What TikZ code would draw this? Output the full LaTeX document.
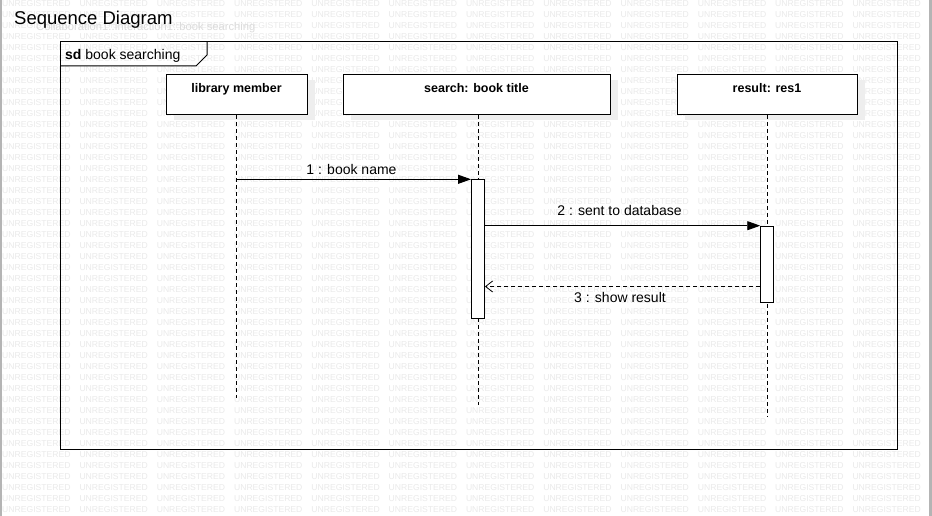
\documentclass[tikz,border=0pt]{standalone}
\usepackage{fontspec}
\setmainfont{Liberation Sans}
\usetikzlibrary{arrows.meta}
\definecolor{wmgray}{HTML}{EAEAEA}
\definecolor{wmgray2}{HTML}{DCDCDC}
\definecolor{shadowgray}{HTML}{EEEEEE}
\definecolor{edgegray}{HTML}{B4B4B4}
\tikzset{
  wm/.style={font=\fontsize{8.6}{9}\selectfont, text=wmgray, inner sep=0pt, anchor=west},
  headbox/.style={draw=black, fill=white, line width=0.9pt, minimum height=40pt, inner sep=0pt, anchor=north west},
  headlabel/.style={font=\fontsize{12.5}{14}\bfseries, inner sep=0pt, anchor=base},
  shadowbox/.style={fill=shadowgray, draw=none, minimum height=40pt, inner sep=0pt, anchor=north west},
  lifeline/.style={line width=0.9pt, dash pattern=on 4pt off 3pt},
  actbox/.style={draw=black, fill=white, line width=0.9pt, minimum width=13pt, inner sep=0pt, anchor=north},
  msg/.style={line width=0.9pt, -{Triangle[length=13pt,width=9pt]}},
  retmsg/.style={line width=0.9pt, dash pattern=on 4pt off 3pt, -{Straight Barb[length=7pt,width=11pt,line width=0.8pt]}},
  msglabel/.style={font=\fontsize{14}{16}\selectfont, inner sep=0pt, anchor=base},
  framebox/.style={draw=black, line width=1pt},
}
\begin{document}
\begin{tikzpicture}[x=1pt,y=-1pt]
\useasboundingbox (0,0) rectangle (932,516);
\fill[white] (0,0) rectangle (932,516);
% watermark
\begin{scope}
\clip (0,0) rectangle (932,516);
\foreach \r in {0,...,46} {
  \foreach \c in {0,...,11} {
    \node[wm] (wm-\r-\c) at ({2+77.3*\c},{4+11*\r}) {UNREGISTERED};
  }
}
\end{scope}
\node[font=\fontsize{11.2}{12}\selectfont, text=wmgray2, inner sep=0pt, anchor=base west] (ghost) at (36,31) {Collaboration1::Interaction1::book searching};
% image edges
\fill[edgegray] (0,0) rectangle (2,516);
\fill[edgegray] (929,0) rectangle (932,516);
% title
\node[font=\fontsize{18.5}{20}\selectfont, inner sep=0pt, anchor=base west] (title) at (14,24.5) {Sequence Diagram};
% frame
\draw[framebox] (60,42) rectangle (897,449);
\draw[framebox] (60,66) -- (196,66) -- (207,55) -- (207,42);
\node[font=\fontsize{14}{16}\selectfont, inner sep=0pt, anchor=base west] (sd) at (65,59.5) {\textbf{sd} book searching};
% shadows
\node[shadowbox, minimum width=141pt] (lmS) at (174,80) {};
\node[shadowbox, minimum width=267pt] (sbS) at (351,80) {};
\node[shadowbox, minimum width=180pt] (rsS) at (685,80) {};
% lifeline heads
\node[headbox, minimum width=141pt] (lm) at (166,74) {};
\node[headbox, minimum width=267pt] (sb) at (343,74) {};
\node[headbox, minimum width=180pt] (rs) at (677,74) {};
\node[headlabel] (lmT) at (236.5,93) {library member};
\node[headlabel] (sbT) at (476.5,93) {search: book title};
\node[headlabel] (rsT) at (767,93) {result: res1};
% lifeline ends
\coordinate (lmEnd) at (236.5,398);
\coordinate (sbEnd) at (478.5,405);
\coordinate (rsEnd) at (767.5,416);
\draw[lifeline] (lm.south -| lmEnd) -- (lmEnd);
\draw[lifeline] (sb.south -| sbEnd) -- (sbEnd);
\draw[lifeline] (rs.south -| rsEnd) -- (rsEnd);
% activations
\node[actbox, minimum height=139pt] (a1) at (478,179.3) {};
\node[actbox, minimum height=76.5pt] (a2) at (767.2,225.7) {};
% messages
\draw[msg] (lmEnd |- a1.north) -- (a1.north west);
\node[msglabel] (l1) at (351.5,175) {1 : book name};
\draw[msg] (a1.east |- a2.north) -- (a2.north west);
\node[msglabel] (l2) at (619.5,215.5) {2 : sent to database};
\coordinate (m3) at (0,286.5);
\draw[retmsg] (a2.west |- m3) -- (a1.east |- m3);
\node[msglabel] (l3) at (620,302) {3 : show result};
\end{tikzpicture}
\end{document}
